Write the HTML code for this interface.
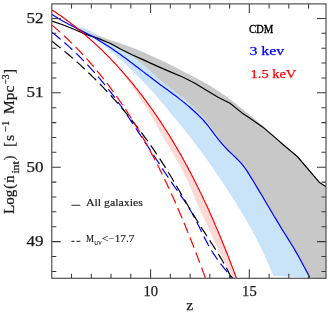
<!DOCTYPE html><html><head><meta charset="utf-8"><style>html,body{margin:0;padding:0;background:#fff;width:333px;height:313px;overflow:hidden}</style></head><body><svg width="333" height="313" viewBox="0 0 333 313" style="position:absolute;left:0;top:0;will-change:transform">
<defs><clipPath id="c"><rect x="51.8" y="3.9" width="274.2" height="274.4"/></clipPath></defs>
<rect width="333" height="313" fill="#fff"/>
<g clip-path="url(#c)">
<path d="M70.0,24.0 L74.4,26.1 L78.9,27.2 L83.3,28.1 L87.8,29.5 L92.2,31.8 L96.7,34.3 L101.1,36.5 L105.6,38.5 L110.0,40.4 L113.1,41.0 L116.4,42.1 L119.7,43.3 L123.0,44.4 L126.3,45.6 L129.6,46.8 L132.9,48.0 L136.2,49.3 L139.5,50.7 L142.8,52.0 L146.1,53.4 L149.4,54.9 L152.7,56.4 L156.0,57.9 L159.3,59.4 L162.6,61.0 L165.9,62.6 L169.2,64.3 L172.5,66.0 L175.8,67.8 L179.2,69.5 L182.5,71.3 L185.8,73.0 L189.1,74.6 L192.4,76.3 L195.7,78.0 L199.0,79.8 L202.3,81.6 L205.6,83.4 L208.9,85.3 L212.2,87.3 L215.5,89.4 L218.8,91.6 L222.1,93.8 L225.4,96.1 L228.7,98.5 L232.0,101.0 L235.3,103.6 L238.6,106.2 L241.9,108.8 L245.3,111.5 L248.6,114.2 L251.9,116.9 L255.2,119.5 L258.5,122.2 L261.8,125.0 L265.1,127.8 L268.4,130.7 L271.7,133.8 L275.0,137.0 L283.0,144.5 L297.3,156.5 L319.8,182.8 L325.8,186.6 L326.0,278.3 L273.5,276.0 L271.4,271.0 L269.4,266.2 L267.3,261.5 L265.3,256.9 L263.2,252.5 L261.2,248.2 L259.1,244.0 L257.1,240.0 L255.0,236.0 L252.9,232.1 L250.9,228.3 L248.8,224.6 L246.8,221.0 L244.7,217.5 L242.7,214.0 L240.6,210.6 L238.6,207.2 L236.5,203.9 L234.4,200.6 L232.4,197.3 L230.3,194.1 L228.3,191.0 L226.2,187.8 L224.2,184.7 L222.1,181.6 L220.1,178.6 L218.0,175.5 L215.9,172.5 L213.9,169.6 L211.8,166.6 L209.8,163.7 L207.7,160.8 L205.7,158.0 L203.6,155.1 L201.6,152.3 L199.5,149.5 L197.4,146.8 L195.4,144.1 L193.3,141.3 L191.3,138.7 L189.2,136.0 L187.2,133.4 L185.1,130.7 L183.1,128.1 L181.0,125.6 L178.9,123.0 L176.9,120.4 L174.8,117.9 L172.8,115.4 L170.7,112.9 L168.7,110.5 L166.6,108.0 L164.6,105.6 L162.5,103.2 L160.4,100.8 L158.4,98.4 L156.3,96.1 L154.3,93.8 L152.2,91.5 L150.2,89.2 L148.1,87.0 L146.1,84.8 L144.0,82.6 L141.9,80.4 L139.9,78.3 L137.8,76.2 L135.8,74.1 L133.7,72.0 L131.7,70.0 L129.6,68.0 L127.6,66.0 L125.5,64.1 L123.4,62.2 L121.4,60.3 L119.3,58.5 L117.3,56.7 L115.2,54.9 L113.2,53.2 L111.1,51.5 L109.1,49.8 L107.0,48.2 L104.9,46.6 L102.9,45.0 L100.8,43.5 L98.8,42.0 L96.7,40.6 L94.7,39.2 L92.6,37.8 L90.6,36.5 L88.5,35.2 L86.4,34.0 L84.4,32.8 L82.3,31.7 L80.3,30.5 L78.2,29.5 L76.2,28.5 L74.1,27.5 L72.1,26.5 L70.0,25.7Z" fill="#c9e3f9"/>
<path d="M80.0,31.7 L83.3,32.1 L86.6,32.7 L89.9,33.5 L93.2,34.4 L96.5,35.4 L99.8,36.4 L103.1,37.6 L106.4,38.7 L109.7,39.9 L113.1,41.0 L116.4,42.1 L119.7,43.3 L123.0,44.4 L126.3,45.6 L129.6,46.8 L132.9,48.0 L136.2,49.3 L139.5,50.7 L142.8,52.0 L146.1,53.4 L149.4,54.9 L152.7,56.4 L156.0,57.9 L159.3,59.4 L162.6,61.0 L165.9,62.6 L169.2,64.3 L172.5,66.0 L175.8,67.8 L179.2,69.5 L182.5,71.3 L185.8,73.0 L189.1,74.6 L192.4,76.3 L195.7,78.0 L199.0,79.8 L202.3,81.6 L205.6,83.4 L208.9,85.3 L212.2,87.3 L215.5,89.4 L218.8,91.6 L222.1,93.8 L225.4,96.1 L228.7,98.5 L232.0,101.0 L235.3,103.6 L238.6,106.2 L241.9,108.8 L245.3,111.5 L248.6,114.2 L251.9,116.9 L255.2,119.5 L258.5,122.2 L261.8,125.0 L265.1,127.8 L268.4,130.7 L271.7,133.8 L275.0,137.0 L283.0,144.5 L297.3,156.5 L319.8,182.8 L325.8,186.6 L326.0,278.3 L309.8,277.5 L308.2,274.4 L306.6,271.4 L304.9,268.3 L303.3,265.3 L301.7,262.2 L300.1,259.3 L298.5,256.3 L296.8,253.4 L295.2,250.6 L293.6,247.8 L292.0,245.2 L290.3,242.5 L288.7,239.9 L287.1,237.4 L285.5,234.8 L283.9,232.2 L282.2,229.6 L280.6,227.0 L279.0,224.3 L277.4,221.6 L275.8,218.9 L274.1,216.2 L272.5,213.5 L270.9,210.7 L269.3,208.0 L267.6,205.3 L266.0,202.5 L264.4,199.8 L262.8,197.0 L261.2,194.3 L259.5,191.6 L257.9,188.9 L256.3,186.2 L254.7,183.5 L253.1,180.8 L251.4,178.1 L249.8,175.5 L248.2,172.9 L246.6,170.4 L244.9,168.0 L243.3,165.9 L241.7,163.9 L240.1,162.1 L238.5,160.3 L236.8,158.7 L235.2,157.1 L233.6,155.6 L232.0,154.1 L230.4,152.6 L228.7,151.0 L228.0,150.6 L224.2,145.2 L220.4,139.8 L216.6,134.5 L212.8,129.3 L209.0,124.3 L205.2,119.5 L201.4,115.1 L197.6,111.0 L193.8,107.3 L190.1,103.9 L186.3,100.7 L182.5,97.6 L178.7,94.7 L174.9,91.8 L171.1,88.8 L167.3,85.8 L163.5,82.7 L159.7,79.4 L155.9,75.9 L152.1,72.4 L148.3,69.0 L144.5,65.6 L140.7,62.5 L136.9,59.6 L133.1,57.0 L129.3,54.7 L125.5,52.5 L121.7,50.5 L117.9,48.5 L114.2,46.6 L110.4,44.8 L106.6,43.1 L102.8,41.4 L99.0,39.7 L95.2,38.1 L91.4,36.6 L87.6,35.0 L83.8,33.5 L80.0,32.0Z" fill="#c8c8c8"/>
<path d="M114.1,62.5 L115.2,63.7 L116.3,64.9 L117.4,66.2 L118.5,67.4 L119.7,68.6 L120.8,69.8 L121.9,71.1 L123.0,72.3 L124.1,73.6 L125.1,74.8 L126.2,76.1 L127.3,77.3 L128.4,78.6 L129.4,79.9 L130.5,81.1 L131.6,82.4 L132.6,83.7 L133.7,85.0 L134.7,86.3 L135.7,87.6 L136.8,88.9 L137.8,90.2 L138.8,91.5 L139.8,92.8 L140.9,94.1 L141.9,95.4 L142.9,96.7 L143.9,98.1 L144.9,99.4 L145.8,100.7 L146.8,102.1 L147.8,103.4 L148.8,104.8 L149.8,106.1 L150.7,107.5 L151.7,108.8 L152.7,110.2 L153.6,111.5 L154.6,112.9 L155.5,114.3 L156.4,115.6 L157.4,117.0 L158.3,118.4 L159.2,119.8 L160.2,121.2 L161.1,122.6 L162.0,124.0 L162.9,125.4 L163.8,126.8 L164.7,128.2 L165.6,129.6 L166.5,131.0 L167.4,132.4 L168.3,133.8 L169.2,135.2 L170.0,136.6 L170.9,138.1 L171.8,139.5 L172.6,140.9 L173.5,142.4 L174.4,143.8 L175.2,145.2 L176.1,146.7 L176.9,148.1 L177.7,149.6 L178.6,151.0 L179.4,152.5 L180.2,153.9 L181.1,155.4 L181.9,156.8 L182.7,158.3 L183.5,159.8 L184.3,161.2 L185.1,162.7 L185.9,164.2 L186.7,165.6 L187.5,167.1 L188.3,168.6 L189.1,170.1 L189.9,171.5 L190.7,173.0 L191.4,174.5 L192.2,176.0 L193.0,177.5 L193.7,179.0 L194.5,180.5 L195.2,182.0 L196.0,183.5 L196.7,185.0 L197.5,186.5 L198.2,188.0 L199.0,189.5 L199.7,191.0 L200.4,192.5 L201.2,194.0 L201.9,195.5 L202.6,197.0 L203.3,198.5 L204.0,200.0 L204.8,201.5 L205.5,203.1 L206.2,204.6 L206.9,206.1 L207.6,207.6 L208.3,209.1 L209.0,210.6 L209.6,212.2 L210.3,213.7 L211.0,215.2 L211.7,216.7 L212.4,218.3 L213.0,219.8 L213.7,221.3 L214.4,222.9 L215.0,224.4 L215.7,225.9 L216.3,227.4 L217.0,229.0 L217.7,230.5 L218.3,232.0 L218.9,233.6 L219.6,235.1 L220.2,236.6 L220.9,238.2 L221.5,239.7 L222.1,241.3 L222.7,242.8 L223.4,244.3 L224.0,245.9 L224.6,247.4 L225.2,248.9 L225.8,250.5 L226.4,252.0 L227.1,253.6 L227.7,255.1 L228.3,256.6 L228.9,258.2 L229.5,259.7 L230.0,261.2 L230.6,262.8 L231.2,264.3 L231.8,265.9 L232.4,267.4 L233.0,268.9 L233.6,270.5 L234.1,272.0 L234.7,273.5 L235.3,275.1 L235.8,276.6 L236.4,278.1 L232.7,278.1 L232.0,276.6 L231.4,275.1 L230.7,273.5 L229.9,272.0 L229.1,270.5 L228.3,268.9 L227.5,267.4 L226.7,265.9 L225.9,264.3 L225.1,262.8 L224.3,261.2 L223.5,259.7 L222.8,258.2 L222.0,256.6 L221.3,255.1 L220.5,253.6 L219.8,252.0 L219.0,250.5 L218.2,248.9 L217.5,247.4 L216.7,245.9 L215.9,244.3 L215.1,242.8 L214.5,241.3 L213.8,239.7 L213.1,238.2 L212.4,236.6 L211.7,235.1 L211.0,233.6 L210.3,232.0 L209.6,230.5 L208.9,229.0 L208.2,227.4 L207.5,225.9 L206.8,224.4 L206.1,222.9 L205.4,221.3 L204.7,219.8 L204.1,218.3 L203.4,216.7 L202.6,215.2 L201.9,213.7 L201.2,212.2 L200.5,210.6 L199.8,209.1 L199.1,207.6 L198.4,206.1 L197.6,204.6 L196.9,203.1 L196.2,201.5 L195.5,200.0 L194.9,198.5 L194.3,197.0 L193.7,195.5 L193.1,194.0 L192.5,192.5 L191.9,191.0 L191.3,189.5 L190.6,188.0 L190.0,186.5 L189.4,185.0 L188.8,183.5 L188.1,182.0 L187.3,180.5 L186.6,179.0 L185.9,177.5 L185.2,176.0 L184.4,174.5 L183.7,173.0 L182.9,171.5 L182.2,170.1 L181.4,168.6 L180.7,167.1 L179.9,165.6 L179.1,164.2 L178.3,162.7 L177.4,161.2 L176.6,159.8 L175.8,158.3 L174.9,156.8 L174.1,155.4 L173.2,153.9 L172.4,152.5 L171.5,151.0 L170.6,149.6 L169.8,148.1 L168.9,146.7 L168.0,145.2 L167.1,143.8 L166.2,142.4 L165.4,140.9 L164.5,139.5 L163.7,138.1 L162.9,136.6 L162.0,135.2 L161.2,133.8 L160.4,132.4 L159.6,131.0 L158.9,129.6 L158.1,128.2 L157.3,126.8 L156.6,125.4 L155.8,124.0 L155.0,122.6 L154.2,121.2 L153.5,119.8 L152.7,118.4 L151.9,117.0 L151.0,115.6 L150.2,114.3 L149.4,112.9 L148.5,111.5 L147.7,110.2 L146.8,108.8 L145.9,107.5 L145.1,106.1 L144.2,104.8 L143.4,103.4 L142.5,102.1 L141.6,100.7 L140.8,99.4 L139.9,98.1 L139.0,96.7 L138.2,95.4 L137.3,94.1 L136.4,92.8 L135.5,91.5 L134.6,90.2 L133.7,88.9 L132.8,87.6 L131.9,86.3 L131.0,85.0 L130.1,83.7 L129.2,82.4 L128.3,81.1 L127.4,79.9 L126.5,78.6 L125.5,77.3 L124.6,76.1 L123.7,74.8 L122.7,73.6 L121.7,72.3 L120.8,71.1 L119.8,69.8 L118.8,68.6 L117.8,67.4 L116.8,66.2 L115.8,64.9 L114.8,63.7 L113.8,62.5Z" fill="#fdd9d7"/>
<path d="M52.0,32.4 L53.2,33.3 L54.5,34.3 L55.7,35.3 L56.9,36.2 L58.1,37.2 L59.3,38.2 L60.5,39.2 L61.7,40.2 L62.9,41.3 L64.1,42.3 L65.2,43.3 L66.4,44.3 L67.6,45.4 L68.7,46.4 L69.9,47.4 L71.0,48.5 L72.1,49.6 L73.3,50.6 L74.4,51.7 L75.5,52.8 L76.6,53.8 L77.8,54.9 L78.9,56.0 L80.0,57.1 L81.1,58.2 L82.1,59.3 L83.2,60.4 L84.3,61.5 L85.4,62.6 L86.4,63.8 L87.5,64.9 L88.6,66.0 L89.6,67.2 L90.7,68.3 L91.7,69.4 L92.7,70.6 L93.8,71.7 L94.8,72.9 L95.8,74.1 L96.8,75.2 L97.8,76.4 L98.8,77.6 L99.8,78.7 L100.8,79.9 L101.8,81.1 L102.8,82.3 L103.8,83.5 L104.7,84.7 L105.7,85.9 L106.7,87.1 L107.6,88.3 L108.6,89.5 L109.5,90.7 L110.5,91.9 L111.4,93.1 L112.3,94.3 L113.3,95.6 L114.2,96.8 L115.1,98.0 L116.0,99.3 L116.9,100.5 L117.8,101.7 L118.7,103.0 L119.6,104.2 L120.5,105.5 L121.4,106.7 L122.2,108.0 L123.1,109.2 L124.0,110.5 L124.8,111.7 L125.7,113.0 L126.6,114.2 L127.4,115.5 L128.3,116.8 L129.1,118.0 L130.0,119.3 L130.8,120.6 L131.6,121.9 L132.5,123.1 L133.3,124.4 L134.2,125.7 L135.0,127.0 L135.8,128.2 L136.7,129.5 L137.5,130.8 L138.4,132.1 L139.2,133.4 L140.1,134.7 L140.9,136.0 L141.8,137.2 L142.6,138.5 L143.5,139.8 L144.3,141.1 L145.2,142.4 L146.1,143.7 L146.9,145.0 L147.8,146.3 L148.6,147.6 L149.5,148.9 L150.3,150.2 L151.2,151.5 L152.0,152.8 L152.9,154.1 L153.8,155.4 L154.6,156.7 L155.5,158.0 L156.3,159.3 L157.2,160.6 L158.0,161.9 L158.9,163.2 L159.7,164.5 L160.6,165.8 L161.4,167.1 L162.2,168.4 L163.1,169.7 L163.9,171.0 L164.8,172.3 L165.6,173.6 L166.5,174.9 L167.3,176.1 L168.2,177.4 L169.0,178.7 L169.9,180.0 L170.8,181.3 L171.7,182.6 L172.6,183.9 L173.5,185.2 L174.4,186.5 L175.3,187.8 L176.3,189.1 L177.2,190.3 L178.1,191.6 L179.0,192.9 L179.9,194.2 L180.8,195.5 L181.7,196.8 L182.6,198.1 L183.5,199.4 L184.4,200.7 L185.2,202.0 L186.1,203.2 L186.9,204.5 L187.7,205.8 L188.5,207.1 L189.3,208.4 L190.1,209.7 L190.8,211.0 L191.6,212.3 L192.3,213.6 L193.0,215.0 L193.8,216.3 L194.5,217.6 L195.1,218.9 L195.8,220.2 L196.5,221.5 L197.2,222.9 L197.8,224.2 L198.5,225.5 L199.2,226.8 L199.8,228.2 L200.5,229.5 L201.1,230.8 L201.8,232.2 L202.4,233.5 L203.1,234.9 L203.7,236.2 L204.4,237.6 L205.1,238.9 L205.8,240.3 L206.5,241.6 L207.2,242.9 L207.9,244.3 L208.7,245.6 L209.4,247.0 L210.2,248.3 L211.0,249.6 L211.8,251.0 L212.6,252.3 L213.5,253.6 L214.3,254.9 L215.2,256.2 L216.1,257.5 L217.0,258.8 L217.9,260.1 L218.8,261.4 L219.8,262.7 L220.7,263.9 L221.7,265.2 L222.7,266.4 L223.7,267.7 L224.6,268.9 L225.7,270.1 L226.7,271.3 L227.7,272.5 L228.7,273.7 L229.7,274.8 L230.8,276.0 L231.8,277.1 L232.8,278.2" fill="none" stroke="#00f" stroke-width="1.2" stroke-dasharray="11 5"/>
<path d="M52.0,41.3 L53.2,42.2 L54.4,43.1 L55.6,44.1 L56.7,45.0 L57.9,45.9 L59.1,46.9 L60.3,47.8 L61.4,48.7 L62.6,49.7 L63.7,50.6 L64.9,51.6 L66.1,52.6 L67.2,53.5 L68.4,54.5 L69.5,55.5 L70.6,56.4 L71.8,57.4 L72.9,58.4 L74.1,59.4 L75.2,60.4 L76.3,61.4 L77.4,62.4 L78.6,63.4 L79.7,64.4 L80.8,65.4 L81.9,66.5 L83.0,67.5 L84.1,68.5 L85.2,69.5 L86.3,70.6 L87.4,71.6 L88.5,72.7 L89.6,73.7 L90.7,74.8 L91.8,75.8 L92.8,76.9 L93.9,77.9 L95.0,79.0 L96.1,80.1 L97.1,81.1 L98.2,82.2 L99.3,83.3 L100.3,84.4 L101.4,85.5 L102.4,86.6 L103.5,87.7 L104.5,88.8 L105.5,89.9 L106.6,91.0 L107.6,92.1 L108.6,93.2 L109.7,94.3 L110.7,95.4 L111.7,96.5 L112.7,97.7 L113.7,98.8 L114.8,99.9 L115.8,101.0 L116.8,102.2 L117.8,103.3 L118.8,104.5 L119.7,105.6 L120.7,106.8 L121.7,107.9 L122.7,109.1 L123.7,110.2 L124.6,111.4 L125.6,112.6 L126.6,113.7 L127.5,114.9 L128.5,116.1 L129.5,117.2 L130.4,118.4 L131.4,119.6 L132.3,120.8 L133.2,122.0 L134.2,123.1 L135.1,124.3 L136.0,125.5 L137.0,126.7 L137.9,127.9 L138.8,129.1 L139.7,130.3 L140.6,131.5 L141.5,132.7 L142.4,133.9 L143.3,135.2 L144.2,136.4 L145.1,137.6 L146.0,138.8 L146.9,140.0 L147.8,141.3 L148.6,142.5 L149.5,143.7 L150.4,144.9 L151.2,146.2 L152.1,147.4 L153.0,148.6 L153.8,149.9 L154.7,151.1 L155.5,152.4 L156.3,153.6 L157.2,154.8 L158.0,156.1 L158.8,157.3 L159.7,158.6 L160.5,159.8 L161.3,161.1 L162.1,162.4 L162.9,163.6 L163.7,164.9 L164.5,166.1 L165.3,167.4 L166.1,168.7 L166.9,169.9 L167.7,171.2 L168.4,172.5 L169.2,173.7 L170.0,175.0 L170.8,176.3 L171.5,177.5 L172.3,178.8 L173.0,180.1 L173.8,181.4 L174.5,182.7 L175.3,183.9 L176.1,185.2 L176.8,186.5 L177.5,187.8 L178.3,189.1 L179.0,190.3 L179.8,191.6 L180.5,192.9 L181.3,194.2 L182.0,195.5 L182.8,196.8 L183.5,198.1 L184.3,199.4 L185.0,200.7 L185.8,201.9 L186.5,203.2 L187.3,204.5 L188.1,205.8 L188.8,207.1 L189.6,208.4 L190.4,209.7 L191.1,211.0 L191.9,212.3 L192.7,213.6 L193.5,214.9 L194.3,216.1 L195.1,217.4 L195.9,218.7 L196.7,220.0 L197.5,221.3 L198.3,222.6 L199.1,223.9 L199.9,225.2 L200.7,226.5 L201.6,227.8 L202.4,229.1 L203.2,230.4 L204.0,231.6 L204.9,232.9 L205.7,234.2 L206.5,235.5 L207.4,236.8 L208.2,238.1 L209.0,239.4 L209.9,240.7 L210.7,242.0 L211.5,243.3 L212.4,244.5 L213.2,245.8 L214.0,247.1 L214.8,248.4 L215.7,249.7 L216.5,251.0 L217.3,252.3 L218.1,253.6 L218.9,254.9 L219.7,256.1 L220.4,257.4 L221.2,258.7 L222.0,260.0 L222.7,261.3 L223.5,262.6 L224.2,263.9 L224.9,265.2 L225.6,266.5 L226.3,267.7 L227.0,269.0 L227.7,270.3 L228.3,271.6 L228.9,272.9 L229.6,274.2 L230.2,275.5 L230.7,276.8 L231.3,278.1" fill="none" stroke="#000" stroke-width="1.2" stroke-dasharray="11 5"/>
<path d="M52.1,25.1 L53.2,26.1 L54.4,27.1 L55.5,28.1 L56.6,29.1 L57.8,30.1 L58.9,31.1 L60.0,32.1 L61.2,33.1 L62.3,34.1 L63.4,35.1 L64.5,36.2 L65.6,37.2 L66.7,38.2 L67.8,39.3 L68.9,40.3 L69.9,41.3 L71.0,42.4 L72.1,43.5 L73.1,44.5 L74.2,45.6 L75.3,46.6 L76.3,47.7 L77.4,48.8 L78.4,49.9 L79.4,50.9 L80.5,52.0 L81.5,53.1 L82.5,54.2 L83.5,55.3 L84.6,56.4 L85.6,57.5 L86.6,58.6 L87.6,59.8 L88.6,60.9 L89.6,62.0 L90.5,63.1 L91.5,64.3 L92.5,65.4 L93.5,66.5 L94.4,67.7 L95.4,68.8 L96.4,70.0 L97.3,71.1 L98.3,72.3 L99.2,73.4 L100.2,74.6 L101.1,75.8 L102.0,76.9 L103.0,78.1 L103.9,79.3 L104.8,80.5 L105.7,81.6 L106.6,82.8 L107.6,84.0 L108.5,85.2 L109.4,86.4 L110.3,87.6 L111.2,88.8 L112.0,90.0 L112.9,91.2 L113.8,92.4 L114.7,93.6 L115.6,94.9 L116.4,96.1 L117.3,97.3 L118.2,98.5 L119.0,99.8 L119.9,101.0 L120.7,102.2 L121.6,103.5 L122.4,104.7 L123.2,106.0 L124.1,107.2 L124.9,108.5 L125.7,109.7 L126.6,111.0 L127.4,112.2 L128.2,113.5 L129.0,114.7 L129.8,116.0 L130.6,117.3 L131.4,118.5 L132.2,119.8 L133.0,121.1 L133.8,122.4 L134.6,123.7 L135.4,124.9 L136.1,126.2 L136.9,127.5 L137.7,128.8 L138.5,130.1 L139.2,131.4 L140.0,132.7 L140.7,134.0 L141.5,135.3 L142.3,136.6 L143.0,137.9 L143.8,139.2 L144.5,140.5 L145.2,141.8 L146.0,143.2 L146.7,144.5 L147.4,145.8 L148.2,147.1 L148.9,148.4 L149.6,149.8 L150.3,151.1 L151.0,152.4 L151.7,153.7 L152.4,155.1 L153.2,156.4 L153.9,157.8 L154.6,159.1 L155.2,160.4 L155.9,161.8 L156.6,163.1 L157.3,164.5 L158.0,165.8 L158.7,167.2 L159.4,168.5 L160.0,169.9 L160.7,171.2 L161.4,172.6 L162.0,173.9 L162.7,175.3 L163.4,176.6 L164.0,178.0 L164.7,179.4 L165.3,180.7 L166.0,182.1 L166.6,183.4 L167.3,184.8 L167.9,186.2 L168.6,187.6 L169.2,188.9 L169.8,190.3 L170.5,191.7 L171.1,193.0 L171.7,194.4 L172.3,195.8 L173.0,197.2 L173.6,198.5 L174.2,199.9 L174.8,201.3 L175.4,202.7 L176.0,204.1 L176.6,205.5 L177.2,206.8 L177.8,208.2 L178.4,209.6 L179.0,211.0 L179.6,212.4 L180.2,213.8 L180.8,215.2 L181.4,216.5 L182.0,217.9 L182.6,219.3 L183.2,220.7 L183.7,222.1 L184.3,223.5 L184.9,224.9 L185.5,226.3 L186.0,227.7 L186.6,229.1 L187.2,230.5 L187.7,231.9 L188.3,233.3 L188.9,234.6 L189.4,236.0 L190.0,237.4 L190.5,238.8 L191.1,240.2 L191.6,241.6 L192.2,243.0 L192.7,244.4 L193.3,245.8 L193.8,247.2 L194.4,248.6 L194.9,250.0 L195.5,251.4 L196.0,252.8 L196.5,254.2 L197.1,255.6 L197.6,257.0 L198.1,258.4 L198.6,259.8 L199.2,261.2 L199.7,262.6 L200.2,264.0 L200.7,265.4 L201.3,266.8 L201.8,268.2 L202.3,269.6 L202.8,271.0 L203.3,272.4 L203.9,273.8 L204.4,275.2 L204.9,276.5 L205.4,277.9" fill="none" stroke="#f00" stroke-width="1.2" stroke-dasharray="11 5"/>
<path d="M52.0,21.1 L62.0,24.5 L74.0,29.3 L86.0,34.4 L98.0,38.4 L110.0,43.2 L120.0,48.8 L132.0,54.8 L144.0,60.1 L156.0,65.6 L168.0,70.9 L182.0,76.8 L194.0,82.8 L206.0,90.0 L218.0,97.2 L230.0,103.2 L242.0,112.9 L250.0,118.2 L262.5,126.9 L274.9,137.4 L283.0,144.5 L297.3,156.5 L319.8,182.8 L325.8,186.6" fill="none" stroke="#000" stroke-width="1.2" stroke-linejoin="round"/>
<path d="M52.0,14.3 L53.6,15.4 L55.2,16.5 L56.9,17.5 L58.5,18.5 L60.1,19.5 L61.7,20.4 L63.3,21.3 L65.0,22.2 L66.6,23.1 L68.2,24.0 L69.8,24.8 L71.5,25.6 L73.1,26.5 L74.7,27.3 L76.3,28.1 L77.9,28.9 L79.6,29.7 L81.2,30.6 L82.8,31.4 L84.4,32.2 L86.0,33.1 L87.7,34.0 L89.3,34.8 L90.9,35.7 L92.5,36.6 L94.2,37.6 L95.8,38.5 L97.4,39.5 L99.0,40.4 L100.6,41.4 L102.3,42.4 L103.9,43.4 L105.5,44.4 L107.1,45.5 L108.7,46.5 L110.4,47.6 L112.0,48.7 L113.6,49.8 L115.2,50.9 L116.9,52.0 L118.5,53.2 L120.1,54.3 L121.7,55.5 L123.3,56.7 L125.0,57.8 L126.6,59.0 L128.2,60.2 L129.8,61.5 L131.4,62.7 L133.1,63.9 L134.7,65.2 L136.3,66.4 L137.9,67.6 L139.6,68.9 L141.2,70.1 L142.8,71.4 L144.4,72.6 L146.0,73.9 L147.7,75.1 L149.3,76.4 L150.9,77.6 L152.5,78.8 L154.1,80.1 L155.8,81.3 L157.4,82.5 L159.0,83.7 L160.6,84.9 L162.3,86.1 L163.9,87.2 L165.5,88.4 L167.1,89.6 L168.7,90.8 L170.4,92.0 L172.0,93.2 L173.6,94.4 L175.2,95.6 L176.8,96.8 L178.5,98.1 L180.1,99.4 L181.7,100.6 L183.3,101.9 L185.0,103.2 L186.6,104.6 L188.2,105.9 L189.8,107.3 L191.4,108.7 L193.1,110.2 L194.7,111.7 L196.3,113.2 L197.9,114.7 L199.5,116.3 L201.2,118.0 L202.8,119.7 L204.4,121.5 L206.0,123.4 L207.7,125.4 L209.3,127.5 L210.9,129.6 L212.5,131.7 L214.1,133.9 L215.8,136.0 L217.4,138.1 L219.0,140.2 L220.6,142.1 L222.2,144.0 L223.9,145.9 L225.5,147.6 L227.1,149.3 L228.7,151.0 L230.4,152.6 L232.0,154.1 L233.6,155.6 L235.2,157.1 L236.8,158.7 L238.5,160.3 L240.1,162.1 L241.7,163.9 L243.3,165.9 L244.9,168.0 L246.6,170.4 L248.2,172.9 L249.8,175.5 L251.4,178.1 L253.1,180.8 L254.7,183.5 L256.3,186.2 L257.9,188.9 L259.5,191.6 L261.2,194.3 L262.8,197.0 L264.4,199.8 L266.0,202.5 L267.6,205.3 L269.3,208.0 L270.9,210.7 L272.5,213.5 L274.1,216.2 L275.8,218.9 L277.4,221.6 L279.0,224.3 L280.6,227.0 L282.2,229.6 L283.9,232.2 L285.5,234.8 L287.1,237.4 L288.7,239.9 L290.3,242.5 L292.0,245.2 L293.6,247.8 L295.2,250.6 L296.8,253.4 L298.5,256.3 L300.1,259.3 L301.7,262.2 L303.3,265.3 L304.9,268.3 L306.6,271.4 L308.2,274.4 L309.8,277.5" fill="none" stroke="#00f" stroke-width="1.2"/>
<path d="M52.0,10.0 L53.4,10.9 L54.8,11.8 L56.2,12.8 L57.5,13.7 L58.9,14.7 L60.3,15.6 L61.7,16.6 L63.0,17.6 L64.4,18.6 L65.7,19.5 L67.1,20.5 L68.4,21.5 L69.8,22.5 L71.1,23.5 L72.4,24.6 L73.7,25.6 L75.0,26.6 L76.3,27.6 L77.6,28.7 L78.9,29.7 L80.2,30.8 L81.5,31.8 L82.8,32.9 L84.0,34.0 L85.3,35.1 L86.6,36.1 L87.8,37.2 L89.1,38.3 L90.3,39.4 L91.6,40.5 L92.8,41.6 L94.0,42.7 L95.2,43.9 L96.5,45.0 L97.7,46.1 L98.9,47.3 L100.1,48.4 L101.3,49.5 L102.5,50.7 L103.6,51.9 L104.8,53.0 L106.0,54.2 L107.2,55.4 L108.3,56.5 L109.5,57.7 L110.6,58.9 L111.8,60.1 L112.9,61.3 L114.1,62.5 L115.2,63.7 L116.3,64.9 L117.4,66.2 L118.5,67.4 L119.7,68.6 L120.8,69.8 L121.9,71.1 L123.0,72.3 L124.1,73.6 L125.1,74.8 L126.2,76.1 L127.3,77.3 L128.4,78.6 L129.4,79.9 L130.5,81.1 L131.6,82.4 L132.6,83.7 L133.7,85.0 L134.7,86.3 L135.7,87.6 L136.8,88.9 L137.8,90.2 L138.8,91.5 L139.8,92.8 L140.9,94.1 L141.9,95.4 L142.9,96.7 L143.9,98.1 L144.9,99.4 L145.8,100.7 L146.8,102.1 L147.8,103.4 L148.8,104.8 L149.8,106.1 L150.7,107.5 L151.7,108.8 L152.7,110.2 L153.6,111.5 L154.6,112.9 L155.5,114.3 L156.4,115.6 L157.4,117.0 L158.3,118.4 L159.2,119.8 L160.2,121.2 L161.1,122.6 L162.0,124.0 L162.9,125.4 L163.8,126.8 L164.7,128.2 L165.6,129.6 L166.5,131.0 L167.4,132.4 L168.3,133.8 L169.2,135.2 L170.0,136.6 L170.9,138.1 L171.8,139.5 L172.6,140.9 L173.5,142.4 L174.4,143.8 L175.2,145.2 L176.1,146.7 L176.9,148.1 L177.7,149.6 L178.6,151.0 L179.4,152.5 L180.2,153.9 L181.1,155.4 L181.9,156.8 L182.7,158.3 L183.5,159.8 L184.3,161.2 L185.1,162.7 L185.9,164.2 L186.7,165.6 L187.5,167.1 L188.3,168.6 L189.1,170.1 L189.9,171.5 L190.7,173.0 L191.4,174.5 L192.2,176.0 L193.0,177.5 L193.7,179.0 L194.5,180.5 L195.2,182.0 L196.0,183.5 L196.7,185.0 L197.5,186.5 L198.2,188.0 L199.0,189.5 L199.7,191.0 L200.4,192.5 L201.2,194.0 L201.9,195.5 L202.6,197.0 L203.3,198.5 L204.0,200.0 L204.8,201.5 L205.5,203.1 L206.2,204.6 L206.9,206.1 L207.6,207.6 L208.3,209.1 L209.0,210.6 L209.6,212.2 L210.3,213.7 L211.0,215.2 L211.7,216.7 L212.4,218.3 L213.0,219.8 L213.7,221.3 L214.4,222.9 L215.0,224.4 L215.7,225.9 L216.3,227.4 L217.0,229.0 L217.7,230.5 L218.3,232.0 L218.9,233.6 L219.6,235.1 L220.2,236.6 L220.9,238.2 L221.5,239.7 L222.1,241.3 L222.7,242.8 L223.4,244.3 L224.0,245.9 L224.6,247.4 L225.2,248.9 L225.8,250.5 L226.4,252.0 L227.1,253.6 L227.7,255.1 L228.3,256.6 L228.9,258.2 L229.5,259.7 L230.0,261.2 L230.6,262.8 L231.2,264.3 L231.8,265.9 L232.4,267.4 L233.0,268.9 L233.6,270.5 L234.1,272.0 L234.7,273.5 L235.3,275.1 L235.8,276.6 L236.4,278.1" fill="none" stroke="#f00" stroke-width="1.2"/>
</g>
<path d="M71.5,278.3 v-4.5 M71.5,3.9 v4.5 M91.3,278.3 v-4.5 M91.3,3.9 v4.5 M111.0,278.3 v-4.5 M111.0,3.9 v4.5 M130.8,278.3 v-4.5 M130.8,3.9 v4.5 M150.6,278.3 v-9 M150.6,3.9 v9 M170.3,278.3 v-4.5 M170.3,3.9 v4.5 M190.1,278.3 v-4.5 M190.1,3.9 v4.5 M209.8,278.3 v-4.5 M209.8,3.9 v4.5 M229.6,278.3 v-4.5 M229.6,3.9 v4.5 M249.3,278.3 v-9 M249.3,3.9 v9 M269.1,278.3 v-4.5 M269.1,3.9 v4.5 M288.8,278.3 v-4.5 M288.8,3.9 v4.5 M308.6,278.3 v-4.5 M308.6,3.9 v4.5 M51.8,271.4 h4.5 M326.0,271.4 h-4.5 M51.8,256.5 h4.5 M326.0,256.5 h-4.5 M51.8,241.6 h9 M326.0,241.6 h-9 M51.8,226.7 h4.5 M326.0,226.7 h-4.5 M51.8,211.8 h4.5 M326.0,211.8 h-4.5 M51.8,197.0 h4.5 M326.0,197.0 h-4.5 M51.8,182.1 h4.5 M326.0,182.1 h-4.5 M51.8,167.2 h9 M326.0,167.2 h-9 M51.8,152.3 h4.5 M326.0,152.3 h-4.5 M51.8,137.4 h4.5 M326.0,137.4 h-4.5 M51.8,122.6 h4.5 M326.0,122.6 h-4.5 M51.8,107.7 h4.5 M326.0,107.7 h-4.5 M51.8,92.8 h9 M326.0,92.8 h-9 M51.8,77.9 h4.5 M326.0,77.9 h-4.5 M51.8,63.0 h4.5 M326.0,63.0 h-4.5 M51.8,48.2 h4.5 M326.0,48.2 h-4.5 M51.8,33.3 h4.5 M326.0,33.3 h-4.5 M51.8,18.4 h9 M326.0,18.4 h-9" stroke="#3a3a3a" stroke-width="1.05" fill="none"/>
<rect x="51.8" y="3.9" width="274.2" height="274.4" fill="none" stroke="#4a4a4a" stroke-width="1.15"/>
<text x="26.5" y="23.0" font-family="Liberation Serif, serif" font-size="15" fill="#1a1a1a" textLength="17" lengthAdjust="spacingAndGlyphs" stroke="#1a1a1a" stroke-width="0.25" >52</text>
<text x="26.5" y="97.4" font-family="Liberation Serif, serif" font-size="15" fill="#1a1a1a" textLength="17" lengthAdjust="spacingAndGlyphs" stroke="#1a1a1a" stroke-width="0.25" >51</text>
<text x="26.5" y="171.8" font-family="Liberation Serif, serif" font-size="15" fill="#1a1a1a" textLength="17" lengthAdjust="spacingAndGlyphs" stroke="#1a1a1a" stroke-width="0.25" >50</text>
<text x="26.5" y="246.2" font-family="Liberation Serif, serif" font-size="15" fill="#1a1a1a" textLength="17" lengthAdjust="spacingAndGlyphs" stroke="#1a1a1a" stroke-width="0.25" >49</text>
<text x="143.4" y="296.1" font-family="Liberation Serif, serif" font-size="15" fill="#1a1a1a" textLength="14.6" lengthAdjust="spacingAndGlyphs" stroke="#1a1a1a" stroke-width="0.25" >10</text>
<text x="242.1" y="296.1" font-family="Liberation Serif, serif" font-size="15" fill="#1a1a1a" textLength="14.6" lengthAdjust="spacingAndGlyphs" stroke="#1a1a1a" stroke-width="0.25" >15</text>
<text x="186.2" y="310.2" font-family="Liberation Serif, serif" font-size="15.5" fill="#1a1a1a" stroke="#1a1a1a" stroke-width="0.25" >z</text>
<g transform="translate(14,214) rotate(-90)">
<text x="0" y="0" font-family="Liberation Serif, serif" font-size="13.8" fill="#1a1a1a" textLength="24.2" lengthAdjust="spacingAndGlyphs" stroke="#1a1a1a" stroke-width="0.25" >Log</text>
<text x="25.3" y="0" font-family="Liberation Serif, serif" font-size="13.8" fill="#1a1a1a" textLength="4.6" lengthAdjust="spacingAndGlyphs" stroke="#1a1a1a" stroke-width="0.25" >(</text>
<text x="31" y="0" font-family="Liberation Serif, serif" font-size="13.8" fill="#1a1a1a" textLength="7.7" lengthAdjust="spacingAndGlyphs" stroke="#1a1a1a" stroke-width="0.25" >n</text>
<circle cx="34.9" cy="-9" r="0.75" fill="#1a1a1a"/>
<text x="40.4" y="4.6" font-family="Liberation Serif, serif" font-size="9.5" fill="#1a1a1a" textLength="12.3" lengthAdjust="spacingAndGlyphs" stroke="#1a1a1a" stroke-width="0.25" >int</text>
<text x="53.8" y="0" font-family="Liberation Serif, serif" font-size="13.8" fill="#1a1a1a" textLength="4.6" lengthAdjust="spacingAndGlyphs" stroke="#1a1a1a" stroke-width="0.25" >)</text>
<text x="67" y="0" font-family="Liberation Serif, serif" font-size="13.8" fill="#1a1a1a" textLength="5.2" lengthAdjust="spacingAndGlyphs" stroke="#1a1a1a" stroke-width="0.25" >[</text>
<text x="73" y="0" font-family="Liberation Serif, serif" font-size="13.8" fill="#1a1a1a" textLength="6.2" lengthAdjust="spacingAndGlyphs" stroke="#1a1a1a" stroke-width="0.25" >s</text>
<text x="82" y="-4.6" font-family="Liberation Serif, serif" font-size="9.5" fill="#1a1a1a" textLength="11.2" lengthAdjust="spacingAndGlyphs" stroke="#1a1a1a" stroke-width="0.25" >−1</text>
<text x="100" y="0" font-family="Liberation Serif, serif" font-size="13.8" fill="#1a1a1a" textLength="28.3" lengthAdjust="spacingAndGlyphs" stroke="#1a1a1a" stroke-width="0.25" >Mpc</text>
<text x="129.8" y="-4.6" font-family="Liberation Serif, serif" font-size="9.5" fill="#1a1a1a" textLength="9.6" lengthAdjust="spacingAndGlyphs" stroke="#1a1a1a" stroke-width="0.25" >−3</text>
<text x="140.3" y="0" font-family="Liberation Serif, serif" font-size="13.8" fill="#1a1a1a" textLength="4.8" lengthAdjust="spacingAndGlyphs" stroke="#1a1a1a" stroke-width="0.25" >]</text>
</g>
<text x="248.9" y="33.2" font-family="Liberation Serif, serif" font-size="13" fill="#000" textLength="24.5" lengthAdjust="spacingAndGlyphs" stroke="#000" stroke-width="0.4" >CDM</text>
<text x="249.4" y="55.2" font-family="Liberation Serif, serif" font-size="13" fill="#00f" textLength="34.8" lengthAdjust="spacingAndGlyphs" stroke="#00f" stroke-width="0.25" >3 kev</text>
<text x="250.6" y="77.9" font-family="Liberation Serif, serif" font-size="13" fill="#f00" textLength="45.7" lengthAdjust="spacingAndGlyphs" stroke="#f00" stroke-width="0.25" >1.5 keV</text>
<path d="M71.4,205.3 H80.3" stroke="#444" stroke-width="1.1"/>
<path d="M71.4,241.4 H74.6 M76.5,241.4 H80.3" stroke="#444" stroke-width="1.1"/>
<text x="85.9" y="205.8" font-family="Liberation Serif, serif" font-size="9.7" fill="#222" textLength="57" lengthAdjust="spacingAndGlyphs" stroke="#222" stroke-width="0.15" >All galaxies</text>
<text x="85.9" y="242.3" font-family="Liberation Serif, serif" font-size="9.7" fill="#222" textLength="8" lengthAdjust="spacingAndGlyphs" stroke="#222" stroke-width="0.15" >M</text>
<text x="94.2" y="244.9" font-family="Liberation Serif, serif" font-size="6.6" fill="#222" textLength="7.7" lengthAdjust="spacingAndGlyphs" stroke="#222" stroke-width="0.15" >UV</text>
<text x="102" y="242.3" font-family="Liberation Serif, serif" font-size="9.7" fill="#222" textLength="32.4" lengthAdjust="spacingAndGlyphs" stroke="#222" stroke-width="0.15" >&lt;−17.7</text>
</svg></body></html>
